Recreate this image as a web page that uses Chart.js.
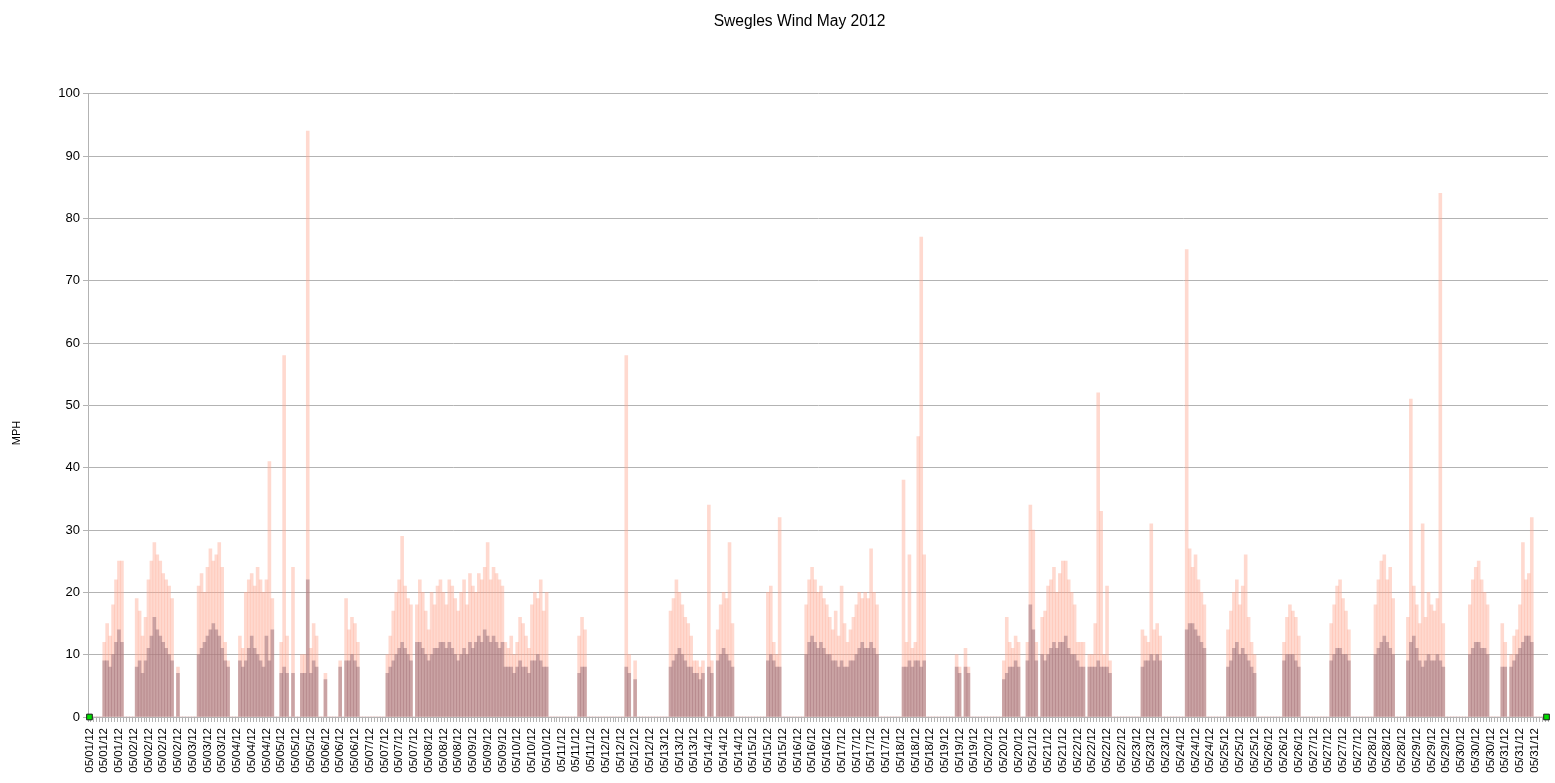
<!DOCTYPE html>
<html>
<head>
    <title>Swegles Wind May 2012</title>
    <script src="https://cdn.jsdelivr.net/npm/chart.js"></script>
    <style>
        body { margin: 0; background: #fff; }
        #wrap { width: 1555px; height: 783px; }
    </style>
</head>
<body>
    <div id="wrap"><canvas id="grafico"></canvas></div>

    <script>
        // wind gusts, MPH (one value per sample)
        const gust = [
            0,0,0,0,0,12,15,13,18,22,
            25,25,0,0,0,0,19,17,13,16,
            22,25,28,26,25,23,22,21,19,0,
            8,0,0,0,0,0,0,21,23,20,
            24,27,25,26,28,24,12,9,0,0,
            0,13,11,20,22,23,21,24,22,20,
            22,41,19,0,0,12,58,13,0,24,
            0,0,10,10,94,11,15,13,0,0,
            7,0,0,0,0,9,0,19,14,16,
            15,12,0,0,0,0,0,0,0,0,
            0,10,13,17,20,22,29,21,19,18,
            0,18,22,20,17,14,20,18,21,22,
            20,18,22,21,19,17,20,22,18,23,
            21,20,23,22,24,28,22,24,23,22,
            21,12,11,13,10,12,16,15,13,11,
            18,20,19,22,17,20,0,0,0,0,
            0,0,0,0,0,0,13,16,14,0,
            0,0,0,0,0,0,0,0,0,0,
            0,0,58,10,0,9,0,0,0,0,
            0,0,0,0,0,0,0,17,19,22,
            20,18,16,15,13,9,9,8,9,0,
            34,9,0,14,18,20,19,28,15,0,
            0,0,0,0,0,0,0,0,0,0,
            20,21,12,10,32,0,0,0,0,0,
            0,0,0,18,22,24,22,20,21,19,
            18,16,14,17,13,21,15,12,14,16,
            18,20,19,20,19,27,20,18,0,0,
            0,0,0,0,0,0,38,12,26,11,
            12,45,77,26,0,0,0,0,0,0,
            0,0,0,0,10,8,0,11,8,0,
            0,0,0,0,0,0,0,0,0,0,
            9,16,12,11,13,12,0,0,12,34,
            30,12,0,16,17,21,22,24,20,23,
            25,25,22,20,18,12,12,12,0,10,
            10,15,52,33,10,21,9,0,0,0,
            0,0,0,0,0,0,0,14,13,12,
            31,14,15,13,0,0,0,0,0,0,
            0,0,75,27,24,26,22,20,18,0,
            0,0,0,0,0,0,14,17,20,22,
            18,21,26,16,12,10,0,0,0,0,
            0,0,0,0,0,12,16,18,17,16,
            13,0,0,0,0,0,0,0,0,0,
            0,15,18,21,22,19,17,14,0,0,
            0,0,0,0,0,0,18,22,25,26,
            22,24,19,0,0,0,0,16,51,21,
            18,15,31,16,20,18,17,19,84,15,
            0,0,0,0,0,0,0,0,18,22,
            24,25,22,20,18,0,0,0,0,15,
            12,0,10,13,14,18,28,22,23,32,
            0,0,0,0,0
        ];

        // average wind speed, MPH
        const avg = [
            0,0,0,0,0,9,9,8,10,12,
            14,12,0,0,0,0,8,9,7,9,
            11,13,16,14,13,12,11,10,9,0,
            7,0,0,0,0,0,0,10,11,12,
            13,14,15,14,13,11,9,8,0,0,
            0,9,8,9,11,13,11,10,9,8,
            13,9,14,0,0,7,8,7,0,7,
            0,0,7,7,22,7,9,8,0,0,
            6,0,0,0,0,8,0,9,9,10,
            9,8,0,0,0,0,0,0,0,0,
            0,7,8,9,10,11,12,11,10,9,
            0,12,12,11,10,9,10,11,11,12,
            12,11,12,11,10,9,10,11,10,12,
            11,12,13,12,14,13,12,13,12,11,
            12,8,8,8,7,8,9,8,8,7,
            9,9,10,9,8,8,0,0,0,0,
            0,0,0,0,0,0,7,8,8,0,
            0,0,0,0,0,0,0,0,0,0,
            0,0,8,7,0,6,0,0,0,0,
            0,0,0,0,0,0,0,8,9,10,
            11,10,9,8,8,7,7,6,7,0,
            8,7,0,9,10,11,10,9,8,0,
            0,0,0,0,0,0,0,0,0,0,
            9,10,9,8,8,0,0,0,0,0,
            0,0,0,10,12,13,12,11,12,11,
            10,10,9,9,8,9,8,8,9,9,
            10,11,12,11,11,12,11,10,0,0,
            0,0,0,0,0,0,8,8,9,8,
            9,9,8,9,0,0,0,0,0,0,
            0,0,0,0,8,7,0,8,7,0,
            0,0,0,0,0,0,0,0,0,0,
            6,7,8,8,9,8,0,0,9,18,
            14,9,0,10,9,10,11,12,11,12,
            12,13,11,10,10,9,8,8,0,8,
            8,8,9,8,8,8,7,0,0,0,
            0,0,0,0,0,0,0,8,9,9,
            10,9,10,9,0,0,0,0,0,0,
            0,0,14,15,15,14,13,12,11,0,
            0,0,0,0,0,0,8,9,11,12,
            10,11,10,9,8,7,0,0,0,0,
            0,0,0,0,0,9,10,10,10,9,
            8,0,0,0,0,0,0,0,0,0,
            0,9,10,11,11,10,10,9,0,0,
            0,0,0,0,0,0,10,11,12,13,
            12,11,10,0,0,0,0,9,12,13,
            11,9,8,9,10,9,9,10,9,8,
            0,0,0,0,0,0,0,0,10,11,
            12,12,11,11,10,0,0,0,0,8,
            8,0,8,9,10,11,12,13,13,12,
            0,0,0,0,0
        ];

        // date labels under the axis, one every 5 samples
        const tickLabels = [
            '05/01/12','05/01/12','05/01/12',
            '05/02/12','05/02/12','05/02/12','05/02/12',
            '05/03/12','05/03/12','05/03/12',
            '05/04/12','05/04/12','05/04/12',
            '05/05/12','05/05/12','05/05/12',
            '05/06/12','05/06/12','05/06/12',
            '05/07/12','05/07/12','05/07/12','05/07/12',
            '05/08/12','05/08/12','05/08/12',
            '05/09/12','05/09/12','05/09/12',
            '05/10/12','05/10/12','05/10/12',
            '05/11/12','05/11/12','05/11/12',
            '05/12/12','05/12/12','05/12/12','05/12/12',
            '05/13/12','05/13/12','05/13/12',
            '05/14/12','05/14/12','05/14/12',
            '05/15/12','05/15/12','05/15/12',
            '05/16/12','05/16/12','05/16/12',
            '05/17/12','05/17/12','05/17/12','05/17/12',
            '05/18/12','05/18/12','05/18/12',
            '05/19/12','05/19/12','05/19/12',
            '05/20/12','05/20/12','05/20/12',
            '05/21/12','05/21/12','05/21/12',
            '05/22/12','05/22/12','05/22/12','05/22/12',
            '05/23/12','05/23/12','05/23/12',
            '05/24/12','05/24/12','05/24/12',
            '05/25/12','05/25/12','05/25/12',
            '05/26/12','05/26/12','05/26/12',
            '05/27/12','05/27/12','05/27/12','05/27/12',
            '05/28/12','05/28/12','05/28/12',
            '05/29/12','05/29/12','05/29/12',
            '05/30/12','05/30/12','05/30/12',
            '05/31/12','05/31/12','05/31/12'
        ];
        const perLabel = 5;

        // green end markers sit on the zero line at the first and last sample
        const endIndexes = [0, gust.length - 1];

        const labels = gust.map((v, i) => i);
        const endMarks = labels.map(i => endIndexes.includes(i) ? 0 : null);
        const fonte = 'Liberation Sans';

        // title centre is a bit right of the canvas centre, like the original
        const titleShift = {
            id: 'titleShift',
            afterLayout(chart) {
                const t = chart.titleBlock;
                if (t) { t.left += 51; }
            }
        };

        // "MPH" axis caption, placed like the original (not centred on the axis)
        const yCaption = {
            id: 'yCaption',
            afterDraw(chart) {
                const c = chart.ctx;
                c.save();
                c.translate(17, 433);
                c.rotate(-Math.PI / 2);
                c.font = '11px ' + fonte;
                c.fillStyle = '#000';
                c.textAlign = 'center';
                c.textBaseline = 'middle';
                c.fillText('MPH', 0, 0);
                c.restore();
            }
        };

        const ctx = document.getElementById('grafico').getContext('2d');
        const myChart = new Chart(ctx, {
            type: 'bar',
            data: {
                labels: labels,
                datasets: [
                    {
                        type: 'line',
                        label: 'ends',
                        data: endMarks,
                        showLine: false,
                        pointStyle: 'rect',
                        pointRadius: 4,
                        backgroundColor: '#00dd00',
                        borderColor: '#1a1a1a',
                        borderWidth: 1,
                        clip: false,
                        order: 0
                    },
                    {
                        label: 'Average',
                        data: avg,
                        backgroundColor: 'rgba(150, 110, 122, 0.5)',
                        grouped: false,
                        barPercentage: 1,
                        categoryPercentage: 1,
                        order: 1
                    },
                    {
                        label: 'Gust',
                        data: gust,
                        backgroundColor: 'rgba(255, 165, 140, 0.42)',
                        grouped: false,
                        barPercentage: 1,
                        categoryPercentage: 1,
                        order: 2
                    }
                ]
            },
            options: {
                responsive: true,
                maintainAspectRatio: false,
                animation: false,
                layout: { padding: { left: 0, right: 7, top: 0, bottom: 0 } },
                scales: {
                    x: {
                        type: 'category',
                        offset: true,
                        grid: {
                            drawOnChartArea: false,
                            drawTicks: true,
                            tickLength: 5,
                            color: '#b3b3b3'
                        },
                        border: { color: '#b3b3b3' },
                        ticks: {
                            autoSkip: false,
                            minRotation: 90,
                            maxRotation: 90,
                            padding: 6,
                            color: '#000',
                            font: { family: fonte, size: 11.5 },
                            callback: function (value, index) {
                                return index % perLabel === 0 ? tickLabels[index / perLabel] : '';
                            }
                        },
                        afterFit: function (scale) {
                            scale.height = 66;
                            scale.paddingLeft = 0;
                            scale.paddingRight = 0;
                        }
                    },
                    y: {
                        min: 0,
                        max: 100,
                        ticks: {
                            stepSize: 10,
                            padding: 3,
                            color: '#000',
                            font: { family: fonte, size: 13 }
                        },
                        grid: {
                            color: '#b3b3b3',
                            tickLength: 5
                        },
                        border: { color: '#b3b3b3' },
                        afterFit: function (scale) { scale.width = 88; }
                    }
                },
                plugins: {
                    legend: { display: false },
                    tooltip: { enabled: false },
                    title: {
                        display: true,
                        text: 'Swegles Wind May 2012',
                        color: '#000',
                        font: { family: fonte, size: 15.6, weight: 'normal' },
                        padding: { top: 12, bottom: 63 }
                    }
                }
            },
            plugins: [titleShift, yCaption]
        });
    </script>
</body>
</html>
